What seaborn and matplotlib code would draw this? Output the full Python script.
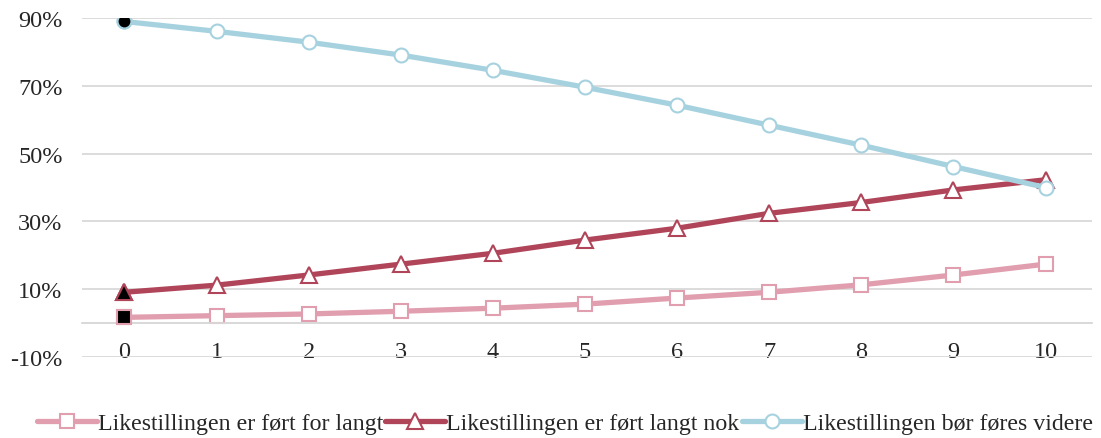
import numpy as np
import pandas as pd
import matplotlib
matplotlib.use("Agg")
import matplotlib.pyplot as plt
import seaborn as sns

#%% Data

steps = list(range(11))
for_langt = [1.7, 2.2, 2.7, 3.5, 4.4, 5.6, 7.4, 9.1, 11.3, 14.2, 17.4]
langt_nok = [9.1, 11.2, 14.2, 17.4, 20.6, 24.5, 28.0, 32.4, 35.6, 39.3, 42.3]
videre = [89.0, 86.1, 82.9, 79.1, 74.6, 69.6, 64.3, 58.4, 52.5, 46.2, 40.0]

labels = ["Likestillingen er ført for langt",
          "Likestillingen er ført langt nok",
          "Likestillingen bør føres videre"]
colors = ["#E09EAE", "#B0455A", "#A6D2DF"]
markers = ["s", "^", "o"]
ytick_vals = [-10, 0, 10, 30, 50, 70, 90]
ytick_labels = ["-10%", "", "10%", "30%", "50%", "70%", "90%"]

#%% Plot

sns.set_style("white")
plt.rcParams["font.family"] = ["Liberation Serif", "DejaVu Serif"]

fig = plt.figure(figsize=(11.01, 4.39), dpi=100)
ax = fig.add_axes([0.0745, 0.1845, 0.917, 0.772])

series = [for_langt, langt_nok, videre]
handles = []
for vals, lab, col, mk in zip(series, labels, colors, markers):
    df = pd.DataFrame({"x": steps, "y": vals})
    msize = 12 if mk == "^" else 10
    sns.lineplot(data=df, x="x", y="y", ax=ax, color=col, linewidth=3.8,
                 marker=mk, markersize=msize, markerfacecolor="white",
                 markeredgecolor=col, markeredgewidth=1.5, label=lab,
                 legend=False)
    # first point is highlighted in black
    ax.plot(steps[:1], vals[:1], linestyle="none", marker=mk, markersize=msize,
            markerfacecolor="black", markeredgecolor=col, markeredgewidth=1.5,
            zorder=3)
    handles.append(ax.lines[-2])

ax.set_xlim(-0.46, 10.5)
ax.set_ylim(-10, 90)
ax.set_yticks(ytick_vals)
ax.set_yticklabels(ytick_labels)
ax.set_xticks(steps)
ax.set_xticklabels([str(s) for s in steps])
ax.set_xlabel("")
ax.set_ylabel("")
ax.grid(axis="y", color="#D9D9D9", linewidth=1.3)
ax.set_axisbelow(True)
for s in ["top", "right", "left"]:
    ax.spines[s].set_visible(False)
ax.spines["bottom"].set_position(("data", 0))
ax.spines["bottom"].set_color("#D9D9D9")
ax.spines["bottom"].set_linewidth(1.3)
ax.tick_params(axis="both", length=0, labelsize=17.5)
ax.tick_params(axis="y", pad=14)
ax.tick_params(axis="x", pad=13)

fig.legend(handles, labels, loc="lower center", bbox_to_anchor=(0.513, -0.04),
           ncol=3, frameon=False, fontsize=17.2, handlelength=2.5,
           handletextpad=0.05, columnspacing=0.1)

fig.savefig("out.png", dpi=100)
